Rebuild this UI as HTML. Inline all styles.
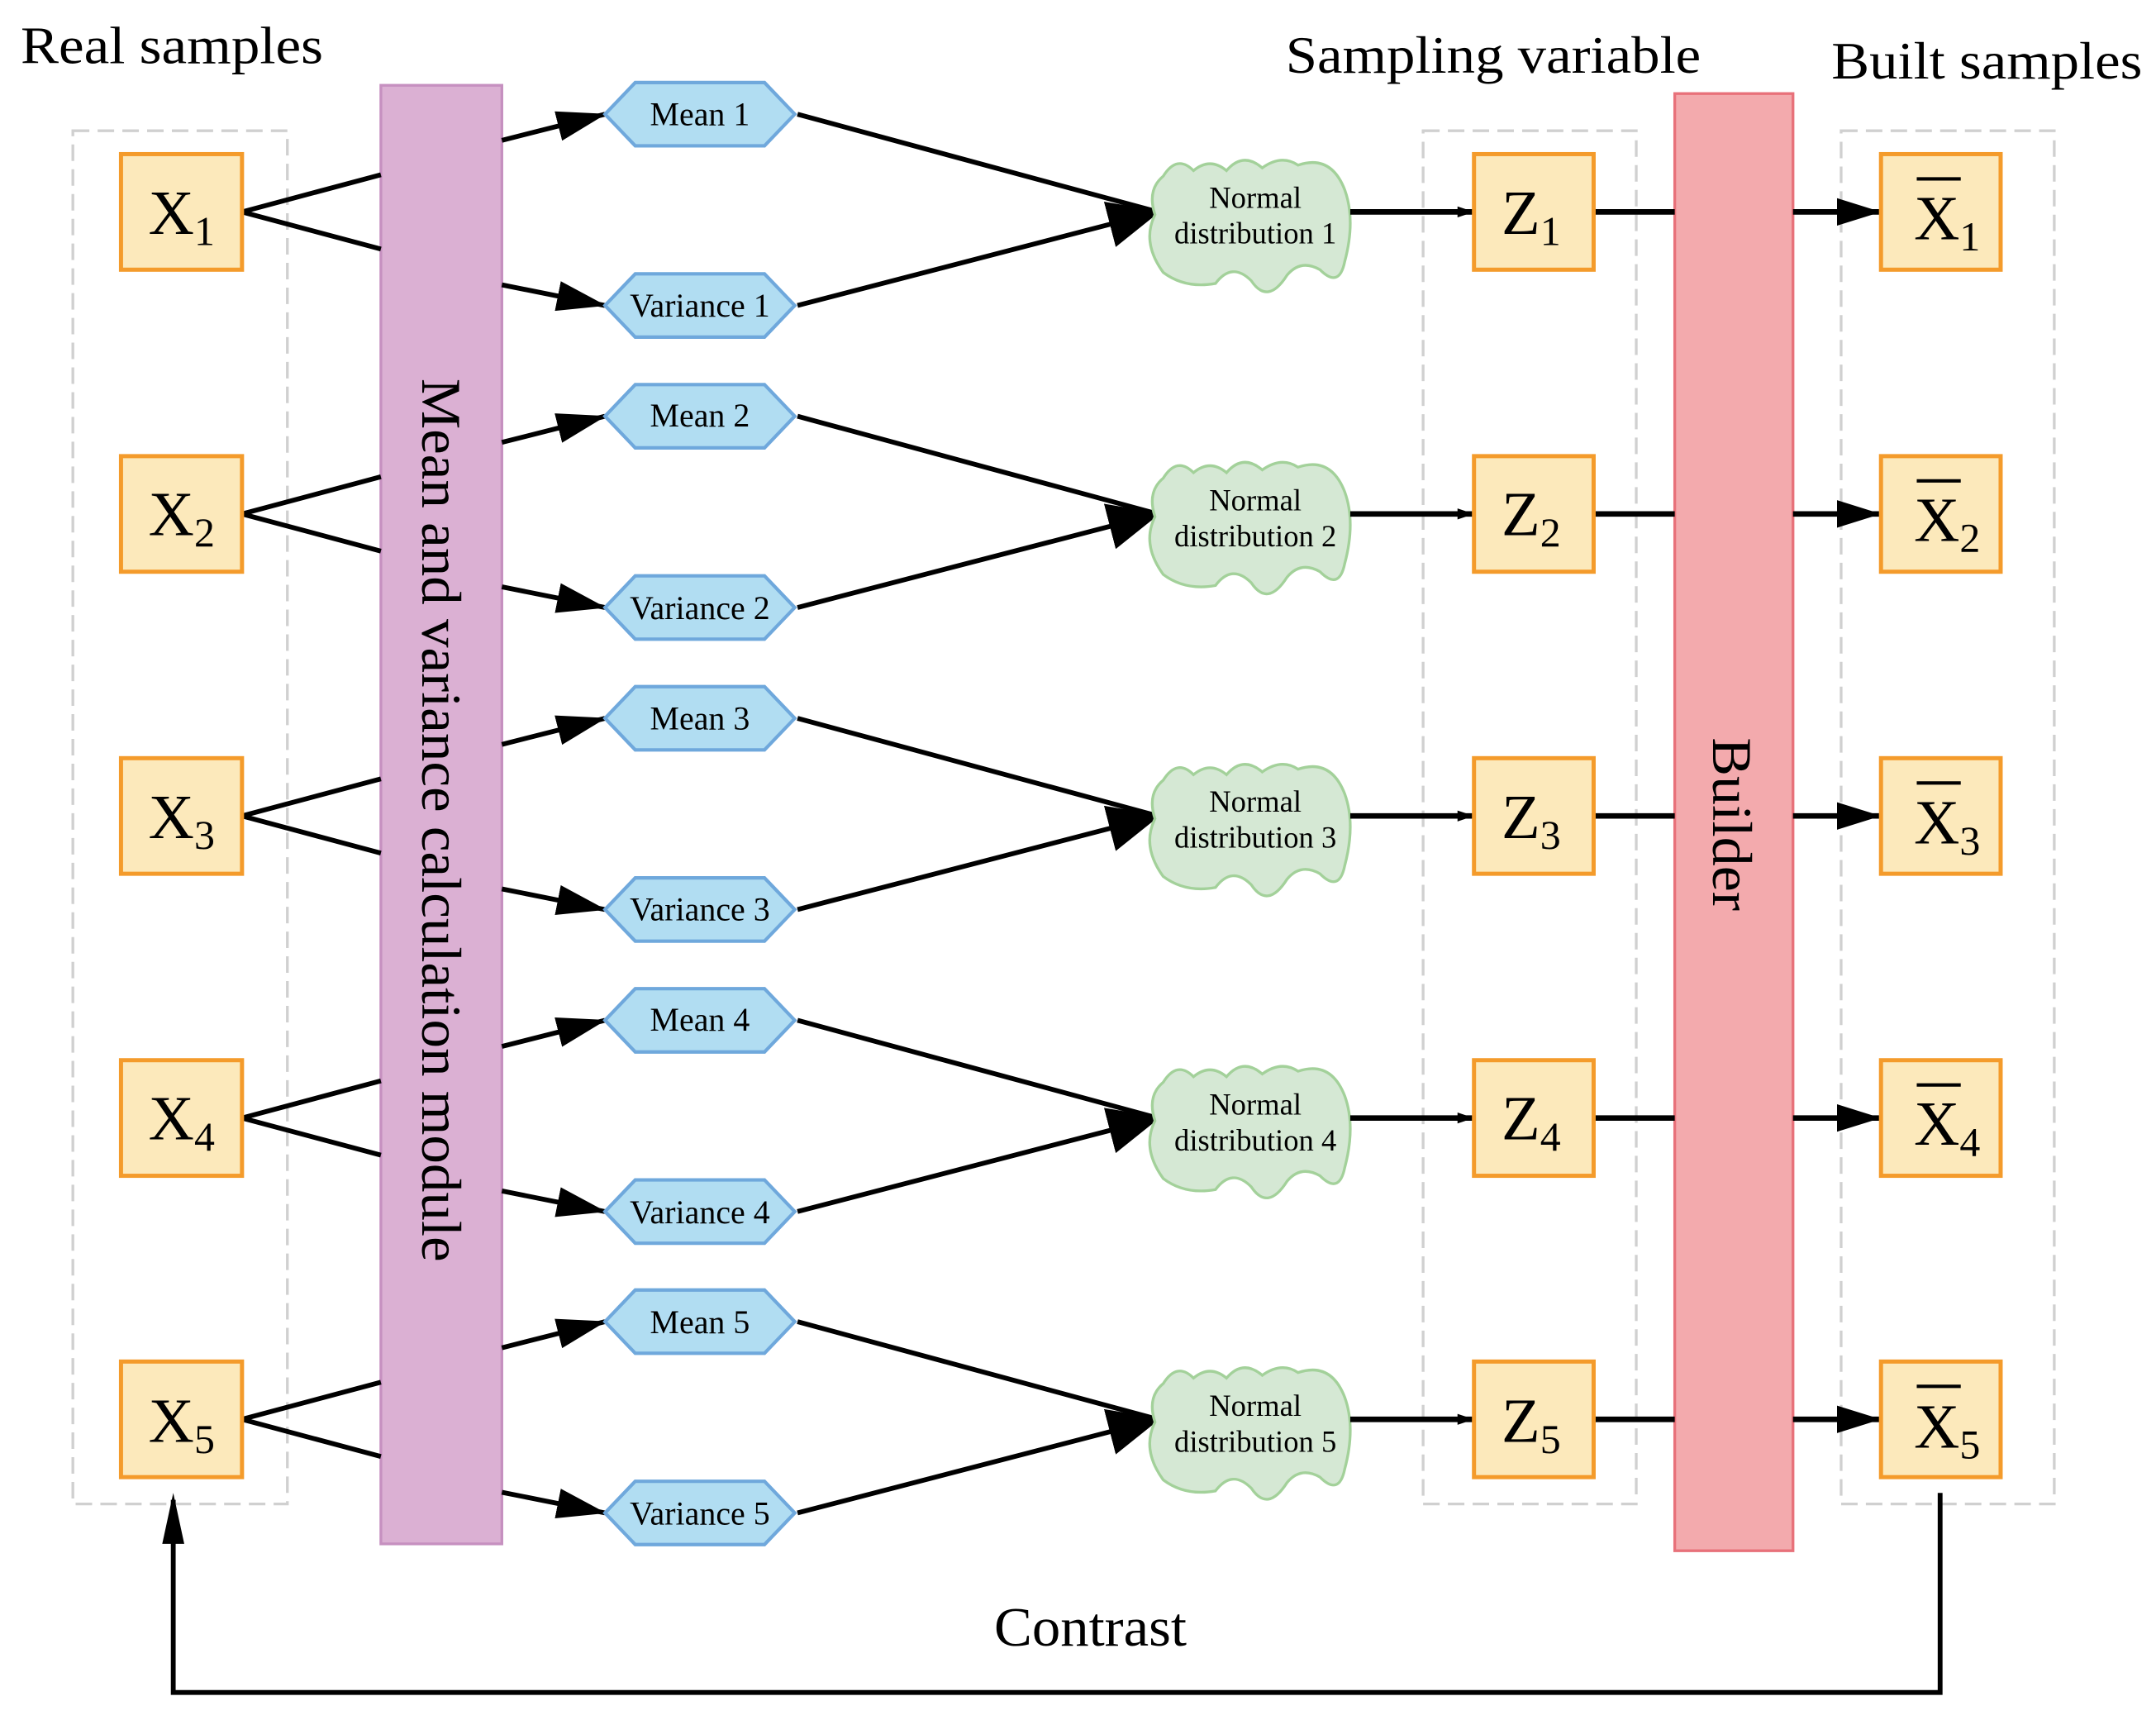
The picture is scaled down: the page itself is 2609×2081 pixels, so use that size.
<!DOCTYPE html>
<html><head><meta charset="utf-8"><style>html,body{margin:0;padding:0;background:#fff}svg{display:block}</style></head><body>
<svg width="2609" height="2081" viewBox="0 0 1568 1250" preserveAspectRatio="none" xmlns="http://www.w3.org/2000/svg" font-family="'Liberation Serif',serif">
<defs>
<marker id="a" markerWidth="12" markerHeight="8" refX="11" refY="4" orient="auto" markerUnits="userSpaceOnUse"><path d="M0,0 L12,4 L0,8 Z"/></marker>
<marker id="m" markerWidth="36" markerHeight="22" refX="35" refY="11" orient="auto" markerUnits="userSpaceOnUse"><path d="M0,0 L36,11 L0,22 Z"/></marker>
<marker id="b" markerWidth="38" markerHeight="34" refX="36" refY="17" orient="auto" markerUnits="userSpaceOnUse"><path d="M0,0 L38,17 L0,34 Z"/></marker>
<marker id="s" markerWidth="32" markerHeight="20" refX="31" refY="10" orient="auto" markerUnits="userSpaceOnUse"><path d="M0,0 L32,10 L0,20 Z"/></marker>
<g id="cloud"><path d="M846,128 Q856,112 868,124 Q880,114 892,124 Q904,110 918,122 Q932,112 944,120 Q968,112 978,138 Q986,160 978,190 Q974,210 960,196 Q946,188 936,200 Q922,222 910,204 Q896,190 884,206 Q862,210 846,198 Q830,176 840,156 Q834,138 846,128 Z" fill="#d5e8d4" stroke="#a3d19a" stroke-width="2"/></g>
<g id="row" stroke-linecap="butt">
<path d="M176,154 L277,127 M176,154 L277,181" stroke="#000" stroke-width="3.5" fill="none"/>
<path d="M365,102 L440,83" stroke="#000" stroke-width="3.5" marker-end="url(#m)"/>
<path d="M365,207 L440,222" stroke="#000" stroke-width="3.5" marker-end="url(#m)"/>
<polygon points="440,83 462,60 556,60 578,83 556,106 462,106" fill="#b1ddf2" stroke="#6fa8dc" stroke-width="2.5"/>
<polygon points="440,222 462,199 556,199 578,222 556,245 462,245" fill="#b1ddf2" stroke="#6fa8dc" stroke-width="2.5"/>
<path d="M580,83 L842,154 M580,222 L842,154" stroke="#000" stroke-width="3.5" fill="none" marker-end="url(#b)"/>
<use href="#cloud"/>
<path d="M982,154 L1071,154" stroke="#000" stroke-width="4" marker-end="url(#a)"/>
<path d="M1159,154 L1218,154" stroke="#000" stroke-width="4"/>
<path d="M1304,154 L1367,154" stroke="#000" stroke-width="4" marker-end="url(#s)"/>
<rect x="88" y="112" width="88" height="84" fill="#fce9bb" stroke="#f49b2b" stroke-width="3"/>
<rect x="1072" y="112" width="87" height="84" fill="#fce9bb" stroke="#f49b2b" stroke-width="3"/>
<rect x="1368" y="112" width="87" height="84" fill="#fce9bb" stroke="#f49b2b" stroke-width="3"/>
<path d="M1394,130 L1426,130" stroke="#000" stroke-width="2.5"/>
</g>
</defs>
<text x="15" y="46" font-size="38" textLength="220" lengthAdjust="spacingAndGlyphs">Real samples</text>
<text x="935" y="53" font-size="38" textLength="302" lengthAdjust="spacingAndGlyphs">Sampling variable</text>
<text x="1332" y="57" font-size="38" textLength="226" lengthAdjust="spacingAndGlyphs">Built samples</text>
<g fill="none" stroke="#d0d0d0" stroke-width="2" stroke-dasharray="12,6">
<rect x="53" y="95" width="156" height="998"/>
<rect x="1035" y="95" width="155" height="998"/>
<rect x="1339" y="95" width="155" height="998"/>
</g>
<rect x="277" y="62" width="88" height="1060" fill="#dbb0d3" stroke="#c690c0" stroke-width="2"/>
<text transform="translate(307,275) rotate(90)" font-size="41" textLength="642" lengthAdjust="spacingAndGlyphs">Mean and variance calculation module</text>
<rect x="1218" y="68" width="86" height="1059" fill="#f3aaad" stroke="#e8717a" stroke-width="2"/>
<text transform="translate(1246,536) rotate(90)" font-size="41" textLength="126" lengthAdjust="spacingAndGlyphs">Builder</text>

<g>
<use href="#row"/><use href="#row" y="219.5"/><use href="#row" y="439"/><use href="#row" y="658.5"/><use href="#row" y="877.5"/>
</g>
<g font-size="24" text-anchor="middle">
<text x="509" y="91">Mean 1</text><text x="509" y="230">Variance 1</text>
<text x="509" y="310">Mean 2</text><text x="509" y="450">Variance 2</text>
<text x="509" y="530">Mean 3</text><text x="509" y="669">Variance 3</text>
<text x="509" y="749">Mean 4</text><text x="509" y="889">Variance 4</text>
<text x="509" y="969">Mean 5</text><text x="509" y="1108">Variance 5</text>
</g>
<g font-size="22" text-anchor="middle">
<text x="913" y="151">Normal</text><text x="913" y="177">distribution 1</text>
<text x="913" y="371">Normal</text><text x="913" y="397">distribution 2</text>
<text x="913" y="590">Normal</text><text x="913" y="616">distribution 3</text>
<text x="913" y="810">Normal</text><text x="913" y="836">distribution 4</text>
<text x="913" y="1029">Normal</text><text x="913" y="1055">distribution 5</text>
</g>
<g font-size="46">
<text x="108" y="170">X<tspan font-size="30" dy="8">1</tspan></text>
<text x="108" y="389">X<tspan font-size="30" dy="8">2</tspan></text>
<text x="108" y="609">X<tspan font-size="30" dy="8">3</tspan></text>
<text x="108" y="828">X<tspan font-size="30" dy="8">4</tspan></text>
<text x="108" y="1048">X<tspan font-size="30" dy="8">5</tspan></text>
<text x="1092" y="170">Z<tspan font-size="30" dy="8">1</tspan></text>
<text x="1092" y="389">Z<tspan font-size="30" dy="8">2</tspan></text>
<text x="1092" y="609">Z<tspan font-size="30" dy="8">3</tspan></text>
<text x="1092" y="828">Z<tspan font-size="30" dy="8">4</tspan></text>
<text x="1092" y="1048">Z<tspan font-size="30" dy="8">5</tspan></text>
<text x="1392" y="174">X<tspan font-size="30" dy="8">1</tspan></text>
<text x="1392" y="393">X<tspan font-size="30" dy="8">2</tspan></text>
<text x="1392" y="613">X<tspan font-size="30" dy="8">3</tspan></text>
<text x="1392" y="832">X<tspan font-size="30" dy="8">4</tspan></text>
<text x="1392" y="1052">X<tspan font-size="30" dy="8">5</tspan></text>
</g>
<path d="M1411,1085 L1411,1230 L126,1230 L126,1090" fill="none" stroke="#000" stroke-width="3.5"/>
<path d="M118,1122 L126,1085 L134,1122 Z"/>
<text x="793" y="1196" font-size="40" text-anchor="middle" textLength="140" lengthAdjust="spacingAndGlyphs">Contrast</text>
</svg>
</body></html>
